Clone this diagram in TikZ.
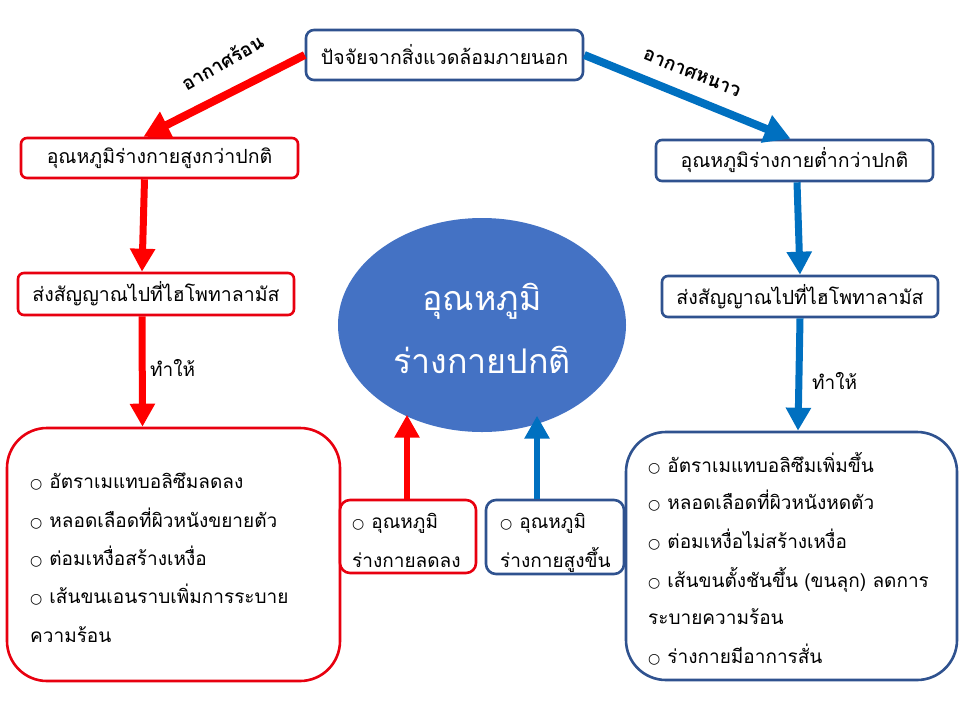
\documentclass[tikz,border=0pt]{standalone}
\usepackage{fontspec}
\newfontfamily\thai[Script=Thai]{Loma}
\newfontfamily\dejavu{DejaVu Sans}
\usetikzlibrary{arrows.meta,shapes.geometric,calc}
\definecolor{boxred}{HTML}{E8000F}
\definecolor{boxblue}{HTML}{2F528F}
\definecolor{arrred}{HTML}{FF0000}
\definecolor{arrblue}{HTML}{0070C0}
\definecolor{ellfill}{HTML}{4472C4}
\newcommand{\bul}{{\dejavu\fontsize{14}{14}\selectfont ○}\hspace{7pt}}
\begin{document}
\begin{tikzpicture}[x=1pt,y=-1pt,
  font=\thai\fontsize{19.5}{22}\selectfont,
  rbox/.style={draw=boxred, line width=2.6pt, rounded corners=#1, fill=white, inner sep=0pt},
  bbox/.style={draw=boxblue, line width=2.6pt, rounded corners=#1, fill=white, inner sep=0pt},
  rarr/.style={draw=arrred, line width=#1, -{Triangle[length=23pt,width=24pt]}},
  barr/.style={draw=arrblue, line width=#1, -{Triangle[length=23pt,width=24pt]}},
  darr/.style={-{Triangle[length=26pt,width=28pt]}},
  txt/.style={anchor=base west, inner sep=0pt, font=\thai\fontsize{19}{22}\selectfont},
  lbl/.style={font=\thai\bfseries\fontsize{19}{22}\selectfont, inner sep=0pt}
]
\useasboundingbox (0,0) rectangle (960,720);
\fill[white] (0,0) rectangle (960,720);

% boxes
\node[bbox=8pt, minimum width=277pt, minimum height=50pt] (top) at (444.5,55) {ปัจจัยจากสิ่งแวดล้อมภายนอก};
\node[rbox=6pt, minimum width=277pt, minimum height=40pt] (hot) at (159.5,158) {อุณหภูมิร่างกายสูงกว่าปกติ};
\node[bbox=6pt, minimum width=277pt, minimum height=41pt] (cold) at (794.5,160.5) {อุณหภูมิร่างกายต่ำกว่าปกติ};
\node[rbox=6pt, minimum width=276pt, minimum height=42pt] (sigL) at (156,294) {ส่งสัญญาณไปที่ไฮโพทาลามัส};
\node[bbox=6pt, minimum width=276pt, minimum height=41pt] (sigR) at (800,296.5) {ส่งสัญญาณไปที่ไฮโพทาลามัส};
\node[rbox=40pt, minimum width=333pt, minimum height=253pt] (bigL) at (173.5,554.5) {};
\node[bbox=40pt, minimum width=331pt, minimum height=248pt] (bigR) at (791.5,556) {};
\node[rbox=10pt, minimum width=136pt, minimum height=73pt] (smL) at (408,536.5) {};
\node[bbox=10pt, minimum width=138pt, minimum height=74pt] (smR) at (555,537) {};
\node[ellipse, fill=ellfill, minimum width=288pt, minimum height=214pt, inner sep=0pt] (ell) at (482,325) {};

% ellipse text
\node[anchor=base, text=white, font=\thai\fontsize{34}{36}\selectfont, inner sep=0pt] (e1) at (482,310) {อุณหภูมิ};
\node[anchor=base, text=white, font=\thai\fontsize{34}{36}\selectfont, inner sep=0pt] (e2) at (482,373) {ร่างกายปกติ};

% left big box text
\node[txt] (l1) at (30,488) {\bul อัตราเมแทบอลิซึมลดลง};
\node[txt] (l2) at (30,527) {\bul หลอดเลือดที่ผิวหนังขยายตัว};
\node[txt] (l3) at (30,565) {\bul ต่อมเหงื่อสร้างเหงื่อ};
\node[txt] (l4) at (30,603) {\bul เส้นขนเอนราบเพิ่มการระบาย};
\node[txt] (l5) at (30,642) {ความร้อน};

% right big box text
\node[txt] (r1) at (648,472) {\bul อัตราเมแทบอลิซึมเพิ่มขึ้น};
\node[txt] (r2) at (648,509) {\bul หลอดเลือดที่ผิวหนังหดตัว};
\node[txt] (r3) at (648,548) {\bul ต่อมเหงื่อไม่สร้างเหงื่อ};
\node[txt] (r4) at (648,587) {\bul เส้นขนตั้งชันขึ้น (ขนลุก) ลดการ};
\node[txt] (r5) at (648,624) {ระบายความร้อน};
\node[txt] (r6) at (648,663) {\bul ร่างกายมีอาการสั่น};

% small boxes text
\node[txt] (s1) at (352,528) {\bul อุณหภูมิ};
\node[txt] (s2) at (352,567) {ร่างกายลดลง};
\node[txt] (t1) at (500,528) {\bul อุณหภูมิ};
\node[txt] (t2) at (500,567) {ร่างกายสูงขึ้น};

% arrows
\draw[rarr=8pt, darr] (top.west) -- ([xshift=-16pt]hot.north);
\draw[barr=8pt, darr] (top.east) -- ([xshift=-4pt]cold.north);
\node[lbl, rotate=30] (hotlbl) at (222,62) {อากาศร้อน};
\node[lbl, rotate=-22] (coldlbl) at (692,73) {อากาศหนาว};
\draw[rarr=7pt] ([xshift=-15pt]hot.south) -- ([xshift=-14pt]sigL.north);
\draw[rarr=7pt] ([xshift=-14pt]sigL.south) -- ([xshift=-31pt]bigL.north);
\draw[barr=7pt] ([xshift=2.5pt]cold.south) -- (sigR.north);
\draw[barr=7pt] (sigR.south) -- ([xshift=6.5pt]bigR.north);
\draw[rarr=6pt] ([xshift=-1pt]smL.north) -- ++(0,-84);
\draw[barr=6pt] ([xshift=-18pt]smR.north) -- ++(0,-83);

\node[anchor=west, inner sep=0pt, font=\thai\fontsize{19}{22}\selectfont] (mk1) at (150,368) {ทำให้};
\node[anchor=west, inner sep=0pt, font=\thai\fontsize{19}{22}\selectfont] (mk2) at (812,381) {ทำให้};
\end{tikzpicture}
\end{document}
